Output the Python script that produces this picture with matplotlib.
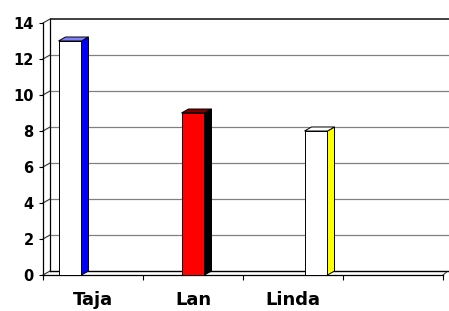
import matplotlib
matplotlib.use('Agg')
import matplotlib.pyplot as plt
from matplotlib.patches import Polygon

categories = ['Taja', 'Lan', 'Linda', '']
series = ['Taja', 'Lan', 'Linda']
values = [13, 9, 8]
front_colors = ['#ffffff', '#ff0000', '#ffffff']
side_colors = ['#0000ff', '#000000', '#ffff00']
top_colors = ['#8080ff', '#800000', '#ffffff']
yticks = [0, 2, 4, 6, 8, 10, 12, 14]

W, H = 449, 311
fig = plt.figure(figsize=(W / 100, H / 100), dpi=100)
fig.patch.set_facecolor('white')
ax_px = (43, 275, 400, 252)  # left, bottom(y from top), width, height
ax = fig.add_axes([ax_px[0] / W, (H - ax_px[1]) / H, ax_px[2] / W, ax_px[3] / H])
ncat = len(categories)
ymax = yticks[-1]
ax.set_xlim(0, ncat)
ax.set_ylim(0, ymax)
ax.patch.set_visible(False)
for s in ['top', 'right']:
    ax.spines[s].set_visible(False)
for s in ['left', 'bottom']:
    ax.spines[s].set_linewidth(0.9)
    ax.spines[s].set_color('black')

# depth in data units (7 px right, 4 px up)
dx = 7 * ncat / ax_px[2]
dy = 4 * ymax / ax_px[3]
xr = ncat + 6 * ncat / ax_px[2]

# back wall gridlines
for y in yticks[1:]:
    col = '#202020' if y == ymax else '#808080'
    ax.plot([dx, xr], [y + dy, y + dy], color=col, lw=0.9 if y != ymax else 1.2,
            clip_on=False, zorder=1, solid_capstyle='butt')
# left wall
ax.plot([dx, dx], [dy, ymax + dy], color='black', lw=0.9, clip_on=False, zorder=1)
for y in yticks:
    ax.plot([0, dx], [y, y + dy], color='#303030', lw=0.8, clip_on=False, zorder=1)
# floor
ax.plot([dx, xr], [dy, dy], color='black', lw=1.0, clip_on=False, zorder=1)
ax.plot([ncat, ncat + dx * 0.5], [0, dy * 0.7], color='#404040', lw=0.8, clip_on=False, zorder=1)

# bars
w = 0.23
for i, v in enumerate(values):
    left = i + 0.5 - 1.5 * w + i * w
    ax.bar(left, v, width=w, align='edge', color=front_colors[i],
           edgecolor='black', linewidth=0.7, zorder=3)
    side = Polygon([(left + w, 0), (left + w + dx, dy), (left + w + dx, v + dy), (left + w, v)],
                   closed=True, facecolor=side_colors[i], edgecolor='black', lw=0.7,
                   zorder=3, clip_on=False)
    top = Polygon([(left, v), (left + w, v), (left + w + dx, v + dy), (left + dx, v + dy)],
                  closed=True, facecolor=top_colors[i], edgecolor='black', lw=0.7,
                  zorder=3, clip_on=False)
    ax.add_patch(side)
    ax.add_patch(top)

# ticks
ax.set_yticks(yticks)
ax.set_yticklabels([str(t) for t in yticks], fontsize=10.5, fontweight='bold',
                   family='DejaVu Sans')
ax.tick_params(axis='y', direction='out', length=3.2, width=0.8, pad=3.6, colors='black')
ax.set_xticks(range(ncat + 1))
ax.set_xticklabels([])
ax.tick_params(axis='x', which='major', direction='out', length=3.6, width=0.8, colors='black')
ax.set_xticks([i + 0.5 for i in range(ncat)], minor=True)
ax.set_xticklabels(categories, minor=True, fontsize=13, fontweight='bold',
                   family='DejaVu Sans')
ax.tick_params(axis='x', which='minor', length=0, pad=11.5)

fig.savefig('out.png', dpi=100)
